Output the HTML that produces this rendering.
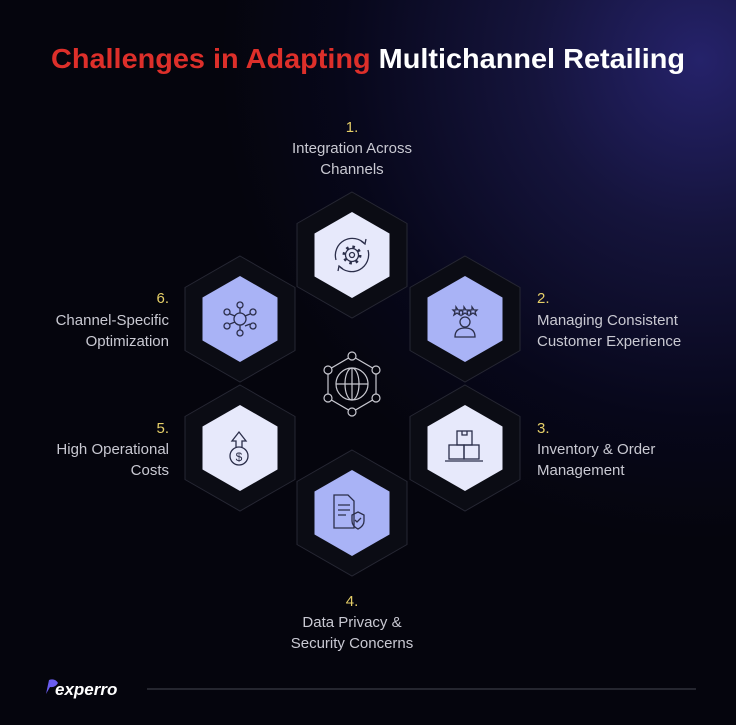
<!DOCTYPE html>
<html><head><meta charset="utf-8"><style>
html,body{margin:0;padding:0;background:#05050d}
svg{display:block}
text{font-family:"Liberation Sans",sans-serif}
</style></head><body>
<svg width="736" height="725" viewBox="0 0 736 725" xmlns="http://www.w3.org/2000/svg">
<defs>
<radialGradient id="g" cx="700" cy="60" r="480" gradientUnits="userSpaceOnUse">
<stop offset="0" stop-color="#25226a"/><stop offset="0.35" stop-color="#15143c"/><stop offset="0.75" stop-color="#07071a"/><stop offset="1" stop-color="#05050d"/>
</radialGradient>
<polygon id="ho" points="0,-63 55,-31.5 55,31.5 0,63 -55,31.5 -55,-31.5"/>
<polygon id="hi" points="0,-43 37.5,-21.5 37.5,21.5 0,43 -37.5,21.5 -37.5,-21.5"/>
</defs>
<rect width="736" height="725" fill="#05050d"/>
<rect width="736" height="725" fill="url(#g)"/>
<text x="368" y="68" text-anchor="middle" font-size="28" font-weight="bold" textLength="634" lengthAdjust="spacingAndGlyphs"><tspan fill="#dd2f2a">Challenges in Adapting</tspan><tspan fill="#ffffff"> Multichannel Retailing</tspan></text>

<g fill="#0b0c14" stroke="#262733" stroke-width="1">
<use href="#ho" x="352" y="255"/>
<use href="#ho" x="465" y="319"/>
<use href="#ho" x="465" y="448"/>
<use href="#ho" x="352" y="513"/>
<use href="#ho" x="240" y="448"/>
<use href="#ho" x="240" y="319"/>
</g>
<use href="#hi" x="352" y="255" fill="#e7e9fb"/>
<use href="#hi" x="465" y="319" fill="#a9b3f6"/>
<use href="#hi" x="465" y="448" fill="#e7e9fb"/>
<use href="#hi" x="352" y="513" fill="#a9b3f6"/>
<use href="#hi" x="240" y="448" fill="#e7e9fb"/>
<use href="#hi" x="240" y="319" fill="#a9b3f6"/>

<g fill="none" stroke="#2b2e4a" stroke-width="1.3">
<!-- gear sync -->
<path d="M336,260 A17,17 0 0 1 365,244 M368,250 A17,17 0 0 1 339,266"/>
<path d="M361,241 l4,3 1,-5 M343,269 l-4,-3 -1,5"/>
<circle cx="352" cy="255" r="6.5"/>
<circle cx="352" cy="255" r="8" stroke-width="3" stroke-dasharray="2.5 3.8"/>
<circle cx="352" cy="255" r="2.5"/>
<!-- person stars -->
<circle cx="465" cy="322" r="5"/><path d="M455,337 q0,-9 10,-9 q10,0 10,9 z"/>
<path d="M454,307 l2,3 3,0 -2,2 1,3 -3,-2 -3,2 1,-3 -2,-2 3,0z M462,307 l2,3 3,0 -2,2 1,3 -3,-2 -3,2 1,-3 -2,-2 3,0z M470,307 l2,3 3,0 -2,2 1,3 -3,-2 -3,2 1,-3 -2,-2 3,0z" transform="translate(2,0)"/>
<!-- boxes -->
<rect x="457" y="431" width="15" height="14"/><rect x="449" y="445" width="15" height="14"/><rect x="464" y="445" width="15" height="14"/>
<path d="M445,461 h38"/><path d="M462,431 v4 h5 v-4"/>
<!-- document shield -->
<path d="M334,495 h14 l6,6 v27 h-20 z M338,505 h12 M338,510 h12 M338,515 h8"/>
<path d="M358,512 l6,3 v6 q0,5 -6,8 q-6,-3 -6,-8 v-6 z M355,520 l2,2 4,-4"/>
<!-- dollar up -->
<circle cx="239" cy="456" r="9"/>
<path d="M236,447 v-6 h-4 l7,-9 7,9 h-4 v6"/>
<text x="239" y="461" font-size="12" text-anchor="middle" fill="#2b2e4a" stroke="none">$</text>
<!-- hub -->
<circle cx="240" cy="319" r="6"/>
<circle cx="240" cy="305" r="3"/><circle cx="240" cy="333" r="3"/>
<circle cx="227" cy="312" r="3"/><circle cx="253" cy="312" r="3"/>
<circle cx="227" cy="326" r="3"/><circle cx="253" cy="326" r="3"/>
<path d="M240,308 v5 M240,325 v5 M230,314 l5,2 M250,314 l-5,2 M230,324 l5,-2 M250,324 l-5,2"/>
</g>
<!-- center globe -->
<g fill="none" stroke="#c8c8d0" stroke-width="1.2">
<polygon points="352,356 376,370 376,398 352,412 328,398 328,370"/>
<circle cx="352" cy="384" r="16"/>
<ellipse cx="352" cy="384" rx="7" ry="16"/>
<path d="M336,384 h32 M352,368 v32"/>
<g fill="#05050d"><circle cx="352" cy="356" r="4"/><circle cx="376" cy="370" r="4"/><circle cx="376" cy="398" r="4"/><circle cx="352" cy="412" r="4"/><circle cx="328" cy="398" r="4"/><circle cx="328" cy="370" r="4"/></g>
</g>

<g font-size="15" fill="#c9c9d2">
<text x="352" y="132" text-anchor="middle" fill="#e6cf68">1.</text>
<text x="352" y="153" text-anchor="middle">Integration Across</text>
<text x="352" y="174" text-anchor="middle">Channels</text>
<text x="537" y="303" fill="#e6cf68">2.</text>
<text x="537" y="325">Managing Consistent</text>
<text x="537" y="346">Customer Experience</text>
<text x="537" y="433" fill="#e6cf68">3.</text>
<text x="537" y="454">Inventory &amp; Order</text>
<text x="537" y="475">Management</text>
<text x="352" y="606" text-anchor="middle" fill="#e6cf68">4.</text>
<text x="352" y="627" text-anchor="middle">Data Privacy &amp;</text>
<text x="352" y="648" text-anchor="middle">Security Concerns</text>
<text x="169" y="433" text-anchor="end" fill="#e6cf68">5.</text>
<text x="169" y="454" text-anchor="end">High Operational</text>
<text x="169" y="475" text-anchor="end">Costs</text>
<text x="169" y="303" text-anchor="end" fill="#e6cf68">6.</text>
<text x="169" y="325" text-anchor="end">Channel-Specific</text>
<text x="169" y="346" text-anchor="end">Optimization</text>
</g>

<path d="M46,694 l3,-14 q6,-2 9,3 q-3,5 -8,4 z" fill="#6a5cf0"/>
<text x="55" y="695" font-size="17" font-weight="bold" font-style="italic" fill="#ffffff">experro</text>
<rect x="147" y="688" width="549" height="2" fill="#25262f"/>
</svg>
</body></html>
